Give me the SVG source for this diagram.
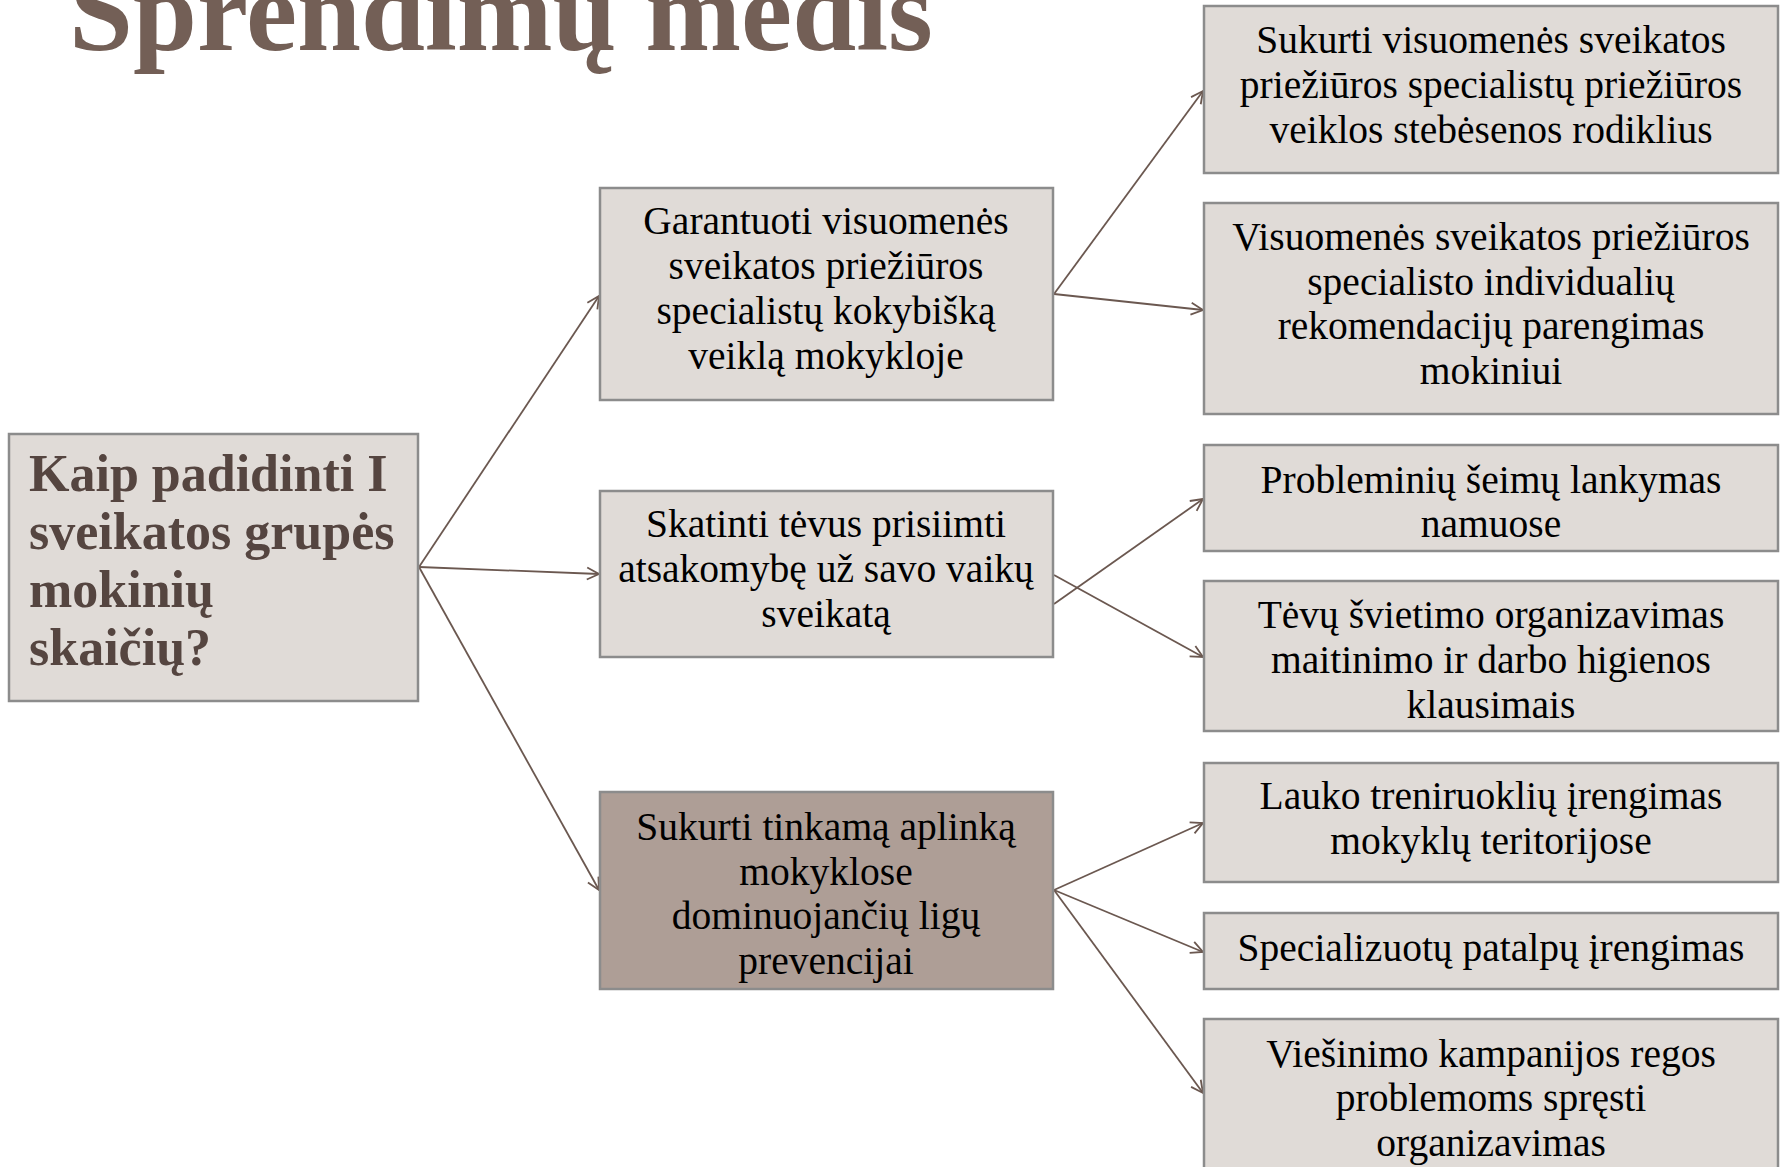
<svg xmlns="http://www.w3.org/2000/svg" width="1785" height="1167" viewBox="0 0 1785 1167">
<style>
.box{fill:#E0DBD7;stroke:#8C8C8C;stroke-width:2.5}
.dark{fill:#AE9E96}
.t{font-family:"Liberation Serif",serif;font-size:39.5px;fill:#000;text-anchor:middle}
.root{font-family:"Liberation Serif",serif;font-size:52px;font-weight:bold;fill:#554540}
.title{font-family:"Liberation Serif",serif;font-size:115px;font-weight:bold;fill:#735F56}
.c{stroke:#6B5850;stroke-width:1.8;fill:none;marker-end:url(#ah)}
</style>
<defs>
<marker id="ah" markerUnits="userSpaceOnUse" markerWidth="16" markerHeight="16" viewBox="0 0 16 16" refX="15" refY="8" orient="auto">
<path d="M3,2 L15,8 L3,14" fill="none" stroke="#6B5850" stroke-width="1.8"/>
</marker>
</defs>
<rect width="1785" height="1167" fill="#fff"/>
<text class="title" x="69" y="50">Sprendimų medis</text>
<g id="connectors">
<line class="c" x1="419" y1="567" x2="599" y2="296"/>
<line class="c" x1="419" y1="567" x2="599" y2="574"/>
<line class="c" x1="419" y1="567" x2="599" y2="890"/>
<line class="c" x1="1054" y1="294" x2="1203" y2="91"/>
<line class="c" x1="1054" y1="294" x2="1203" y2="310"/>
<line class="c" x1="1054" y1="604" x2="1203" y2="499"/>
<line class="c" x1="1054" y1="575" x2="1203" y2="657"/>
<line class="c" x1="1054" y1="890" x2="1203" y2="823"/>
<line class="c" x1="1054" y1="890" x2="1203" y2="952"/>
<line class="c" x1="1054" y1="890" x2="1203" y2="1093"/>
</g>
<g id="root">
<rect class="box" x="9" y="434" width="409" height="267"/>
<text class="root" x="29" y="491">Kaip padidinti I</text>
<text class="root" x="29" y="549">sveikatos grupės</text>
<text class="root" x="29" y="607">mokinių</text>
<text class="root" x="29" y="665">skaičių?</text>
</g>
<g id="mid1">
<rect class="box" x="600" y="188" width="453" height="212"/>
<text class="t" x="826" y="234">Garantuoti visuomenės</text>
<text class="t" x="826" y="279">sveikatos priežiūros</text>
<text class="t" x="826" y="324">specialistų kokybišką</text>
<text class="t" x="826" y="369">veiklą mokykloje</text>
</g>
<g id="mid2">
<rect class="box" x="600" y="491" width="453" height="166"/>
<text class="t" x="826" y="537">Skatinti tėvus prisiimti</text>
<text class="t" x="826" y="582">atsakomybę už savo vaikų</text>
<text class="t" x="826" y="627">sveikatą</text>
</g>
<g id="mid3">
<rect class="box dark" x="600" y="792" width="453" height="197"/>
<text class="t" x="826" y="840">Sukurti tinkamą aplinką</text>
<text class="t" x="826" y="885">mokyklose</text>
<text class="t" x="826" y="929">dominuojančių ligų</text>
<text class="t" x="826" y="974">prevencijai</text>
</g>
<g id="r1">
<rect class="box" x="1204" y="6" width="574" height="167"/>
<text class="t" x="1491" y="53">Sukurti visuomenės sveikatos</text>
<text class="t" x="1491" y="98">priežiūros specialistų priežiūros</text>
<text class="t" x="1491" y="143">veiklos stebėsenos rodiklius</text>
</g>
<g id="r2">
<rect class="box" x="1204" y="203" width="574" height="211"/>
<text class="t" x="1491" y="250">Visuomenės sveikatos priežiūros</text>
<text class="t" x="1491" y="295">specialisto individualių</text>
<text class="t" x="1491" y="339">rekomendacijų parengimas</text>
<text class="t" x="1491" y="384">mokiniui</text>
</g>
<g id="r3">
<rect class="box" x="1204" y="445" width="574" height="106"/>
<text class="t" x="1491" y="493">Probleminių šeimų lankymas</text>
<text class="t" x="1491" y="537">namuose</text>
</g>
<g id="r4">
<rect class="box" x="1204" y="581" width="574" height="150"/>
<text class="t" x="1491" y="628">Tėvų švietimo organizavimas</text>
<text class="t" x="1491" y="673">maitinimo ir darbo higienos</text>
<text class="t" x="1491" y="718">klausimais</text>
</g>
<g id="r5">
<rect class="box" x="1204" y="763" width="574" height="119"/>
<text class="t" x="1491" y="809">Lauko treniruoklių įrengimas</text>
<text class="t" x="1491" y="854">mokyklų teritorijose</text>
</g>
<g id="r6">
<rect class="box" x="1204" y="913" width="574" height="76"/>
<text class="t" x="1491" y="961">Specializuotų patalpų įrengimas</text>
</g>
<g id="r7">
<rect class="box" x="1204" y="1019" width="574" height="160"/>
<text class="t" x="1491" y="1067">Viešinimo kampanijos regos</text>
<text class="t" x="1491" y="1111">problemoms spręsti</text>
<text class="t" x="1491" y="1156">organizavimas</text>
</g>
</svg>
